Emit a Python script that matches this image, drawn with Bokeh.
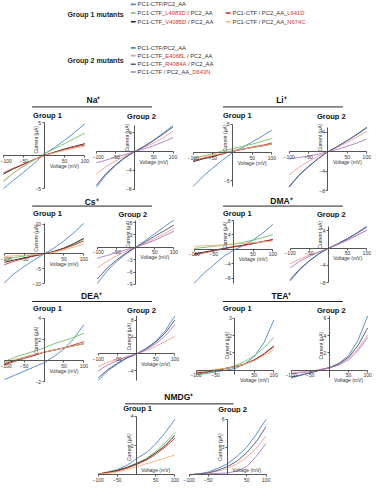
import math
from bokeh.plotting import figure
from bokeh.layouts import column, row
from bokeh.models import Range1d, FixedTicker, Spacer
from bokeh.core.properties import value
from bokeh.embed import file_html
from bokeh.resources import INLINE

FONT = "Liberation Sans"
VOLT = [-100, -75, -50, -25, 0, 25, 50, 75, 100]
X_TICKS = [-100, -50, 50, 100]

G1_COLORS = ["#4a86c8", "#6fbf62", "#222222", "#c8322b", "#f2b27a"]
G2_COLORS = ["#4a86c8", "#ee9e9a", "#4b5273", "#a77cc4"]
RED_TXT = "#d9302a"
TXT = "#333333"

# ---- Na+ ----
NA1_WT = [-5.0, -3.7, -2.5, -1.2, 0.2, 1.2, 2.3, 3.5, 4.8]
NA1_L4083D = [-3.8, -2.6, -1.6, -0.7, 0.3, 1.0, 1.8, 2.6, 3.4]
NA1_V4085D = [-2.8, -2.0, -1.3, -0.6, 0.0, 0.5, 1.0, 1.4, 1.8]
NA1_L641D = [-2.6, -1.9, -1.3, -0.6, 0.0, 0.5, 0.9, 1.3, 1.6]
NA1_N674C = [-4.0, -2.6, -1.5, -0.6, 0.0, 0.4, 0.8, 1.1, 1.4]
NA2_WT = [-7.6, -5.0, -3.0, -1.3, 0.0, 1.2, 2.5, 4.0, 5.6]
NA2_E4068L = [-4.8, -3.2, -2.0, -0.9, 0.0, 0.9, 1.9, 3.0, 4.4]
NA2_R4084A = [-7.2, -4.7, -2.8, -1.2, 0.0, 1.1, 2.4, 3.8, 5.3]
NA2_D643N = [-2.4, -1.8, -1.2, -0.6, 0.0, 0.6, 1.3, 2.1, 3.0]
# ---- Li+ ----
LI1_WT = [-6.0, -4.2, -2.7, -1.3, 0.0, 0.9, 1.9, 2.9, 4.0]
LI1_L4083D = [-1.0, -0.6, -0.2, 0.3, 0.7, 1.1, 1.5, 2.0, 2.5]
LI1_V4085D = [-1.6, -1.1, -0.7, -0.2, 0.3, 0.6, 0.9, 1.2, 1.5]
LI1_L641D = [-1.4, -1.0, -0.6, -0.2, 0.3, 0.6, 1.0, 1.3, 1.7]
LI1_N674C = [-1.0, -0.7, -0.4, -0.1, 0.3, 0.6, 0.9, 1.2, 1.5]
LI2_WT = [-7.1, -4.8, -3.0, -1.4, 0.0, 1.1, 2.3, 3.5, 4.9]
LI2_E4068L = [-4.8, -3.2, -2.0, -0.9, 0.0, 0.9, 1.9, 3.0, 4.2]
LI2_R4084A = [-7.3, -4.9, -3.1, -1.4, 0.0, 1.1, 2.3, 3.6, 5.0]
LI2_D643N = [-1.5, -1.2, -0.9, -0.5, 0.0, 0.5, 1.1, 1.8, 2.6]
# ---- Cs+ ----
CS1_WT = [-9.7, -6.6, -4.2, -2.0, 0.0, 2.0, 4.4, 7.2, 10.3]
CS1_L4083D = [-1.8, -1.2, -0.7, -0.3, 0.0, 0.8, 1.9, 3.3, 5.0]
CS1_V4085D = [-2.8, -2.0, -1.3, -0.6, 0.0, 0.9, 2.0, 3.5, 5.3]
CS1_L641D = [-3.6, -2.4, -1.5, -0.7, 0.0, 0.8, 1.8, 3.0, 4.4]
CS1_N674C = [-0.9, -0.6, -0.4, -0.2, 0.0, 0.6, 1.4, 2.3, 3.4]
CS2_WT = [-8.8, -5.8, -3.5, -1.6, 0.0, 1.6, 3.3, 5.0, 6.6]
CS2_E4068L = [-5.0, -3.4, -2.1, -1.0, 0.0, 1.0, 2.1, 3.3, 4.6]
CS2_R4084A = [-7.7, -5.1, -3.1, -1.4, 0.0, 1.3, 2.7, 4.0, 5.4]
CS2_D643N = [-2.7, -2.0, -1.3, -0.6, 0.0, 0.8, 1.7, 2.8, 3.9]
# ---- DMA+ ----
DMA1_WT = [-9.4, -6.6, -4.3, -2.0, -0.3, 1.0, 2.5, 4.5, 6.8]
DMA1_L4083D = [0.2, 0.5, 0.8, 1.1, 1.4, 1.9, 2.5, 3.2, 4.0]
DMA1_V4085D = [-1.3, -0.8, -0.3, 0.2, 0.7, 1.1, 1.6, 2.1, 2.6]
DMA1_L641D = [-1.6, -1.0, -0.5, 0.1, 0.6, 1.0, 1.5, 2.1, 2.7]
DMA1_N674C = [0.8, 0.9, 1.0, 1.2, 1.4, 1.6, 1.8, 2.0, 2.2]
DMA2_WT = [-7.6, -5.0, -3.0, -1.3, 0.0, 1.1, 2.3, 3.6, 5.1]
DMA2_E4068L = [-3.6, -2.5, -1.6, -0.8, 0.0, 0.9, 1.9, 3.0, 4.3]
DMA2_R4084A = [-7.3, -4.8, -2.9, -1.3, 0.0, 1.0, 2.2, 3.5, 4.9]
DMA2_D643N = [-4.6, -3.0, -1.9, -0.9, 0.0, 0.9, 1.9, 3.0, 4.2]
# ---- DEA+ ----
DEA1_WT = [-1.8, -1.4, -1.0, -0.6, -0.2, 0.4, 1.1, 2.1, 3.4]
DEA1_L4083D = [-0.1, 0.3, 0.6, 0.9, 1.2, 1.6, 1.9, 2.2, 2.6]
DEA1_V4085D = [-0.3, 0.0, 0.3, 0.5, 0.8, 1.0, 1.2, 1.4, 1.6]
DEA1_L641D = [-0.4, -0.1, 0.2, 0.5, 0.8, 1.0, 1.2, 1.5, 1.8]
DEA1_N674C = [-0.2, 0.1, 0.3, 0.6, 0.8, 1.0, 1.2, 1.4, 1.6]
DEA2_WT = [-6.3, -4.0, -2.4, -1.0, 0.0, 1.3, 3.0, 5.5, 9.0]
DEA2_E4068L = [-3.0, -2.0, -1.3, -0.6, 0.0, 0.8, 1.8, 2.9, 4.2]
DEA2_R4084A = [-5.7, -3.7, -2.2, -0.9, 0.0, 1.2, 2.8, 5.0, 8.0]
DEA2_D643N = [-4.0, -2.6, -1.6, -0.7, 0.0, 1.0, 2.4, 4.3, 7.0]
# ---- TEA+ ----
TEA1_WT = [-0.25, -0.2, -0.1, 0.0, 0.1, 0.35, 0.8, 1.6, 2.9]
TEA1_L4083D = [-0.25, -0.15, -0.05, 0.1, 0.25, 0.5, 0.85, 1.3, 1.9]
TEA1_V4085D = [-0.15, -0.1, 0.0, 0.1, 0.2, 0.35, 0.6, 0.95, 1.4]
TEA1_L641D = [-0.15, -0.1, 0.0, 0.1, 0.2, 0.35, 0.6, 0.95, 1.35]
TEA1_N674C = [-0.1, -0.05, 0.05, 0.1, 0.2, 0.35, 0.55, 0.85, 1.2]
TEA2_WT = [-0.9, -0.6, -0.3, 0.0, 0.3, 0.8, 1.7, 3.5, 6.3]
TEA2_E4068L = [-0.3, -0.2, -0.1, 0.1, 0.3, 0.7, 1.4, 2.5, 4.1]
TEA2_R4084A = [-0.8, -0.55, -0.3, 0.0, 0.3, 0.75, 1.5, 2.9, 4.9]
TEA2_D643N = [-0.4, -0.3, -0.15, 0.05, 0.25, 0.6, 1.2, 2.3, 3.8]
# ---- NMDG+ ----
NMDG1_WT = [0.05, 0.2, 0.35, 0.65, 1.1, 1.5, 2.1, 2.9, 3.8]
NMDG1_L4083D = [0.05, 0.15, 0.3, 0.5, 0.8, 1.1, 1.6, 2.2, 2.9]
NMDG1_V4085D = [0.05, 0.15, 0.3, 0.5, 0.75, 1.05, 1.5, 2.0, 2.7]
NMDG1_L641D = [0.05, 0.15, 0.25, 0.45, 0.7, 1.0, 1.4, 1.9, 2.5]
NMDG1_N674C = [0.05, 0.1, 0.2, 0.35, 0.55, 0.75, 0.95, 1.15, 1.35]
NMDG2_WT = [0.0, 0.1, 0.3, 0.7, 1.2, 2.0, 3.0, 4.4, 6.0]
NMDG2_E4068L = [0.0, 0.1, 0.2, 0.4, 0.7, 1.2, 1.9, 2.9, 4.2]
NMDG2_R4084A = [0.0, 0.1, 0.2, 0.5, 0.9, 1.5, 2.4, 3.6, 5.2]
NMDG2_D643N = [0.0, 0.05, 0.1, 0.15, 0.2, 0.4, 0.9, 2.0, 3.4]

# y tick labels per panel
NA1_YT, NA2_YT = [5, -5], [4, -4, -8]
LI1_YT, LI2_YT = [5, -5], [4, -4, -8]
CS1_YT, CS2_YT = [10, -5, -10], [6, 3, -3, -6, -9]
DMA1_YT, DMA2_YT = [8, 4, -4, -8], [4, -4, -8]
DEA1_YT, DEA2_YT = [4, 2, -2], [8, 4, -4]
TEA1_YT, TEA2_YT = [3, 2, 1], [6, 4, 2]
NMDG1_YT, NMDG2_YT = [4, 2], [6, 3]

LEG_G1 = [
    [("PC1-CTF/PC2_AA", TXT)],
    [("PC1-CTF_", TXT), ("L4083D", RED_TXT), (" / PC2_AA", TXT)],
    [("PC1-CTF_", TXT), ("V4085D", RED_TXT), (" / PC2_AA", TXT)],
    [("PC1-CTF / PC2_AA_", TXT), ("L641D", RED_TXT)],
    [("PC1-CTF / PC2_AA_", TXT), ("N674C", RED_TXT)],
]
LEG_G2 = [
    [("PC1-CTF/PC2_AA", TXT)],
    [("PC1-CTF_", TXT), ("E4068L", RED_TXT), (" / PC2_AA", TXT)],
    [("PC1-CTF_", TXT), ("R4084A", RED_TXT), (" / PC2_AA", TXT)],
    [("PC1-CTF / PC2_AA_", TXT), ("D643N", RED_TXT)],
]

# ---------------- layout helpers ----------------
SX = 373 / 389.0
SY = 484 / 500.0
CW = {' ': 278, '/': 278, '-': 333, '_': 556, 'A': 667, 'C': 722, 'D': 722, 'E': 667,
      'F': 611, 'L': 556, 'N': 722, 'P': 667, 'R': 722, 'T': 611, 'V': 667}
LW = 0.9


def twidth(s, fs):
    return sum(CW.get(c, 556) for c in s) * fs / 1000.0


def px_w(a, b):
    return round(b * SX) - round(a * SX)


def px_h(a, b):
    return round(b * SY) - round(a * SY)


def canvas(by):
    p = figure(width=373, height=px_h(*by), x_range=Range1d(0, 389),
               y_range=Range1d(by[1], by[0]), output_backend="svg",
               toolbar_location=None, min_border=0, x_axis_type=None, y_axis_type=None)
    p.outline_line_color = None
    return p


def make_legend():
    by = (0, 90)
    p = canvas(by)
    fs = 5.8
    p.text(x=[70, 70], y=[14, 62], text=["Group 1 mutants", "Group 2 mutants"],
           text_font=value(FONT), text_font_size=value("7px"), text_font_style="bold",
           text_color="#222222", text_align="left", text_baseline="middle")

    def entry(x, y, parts, color):
        p.segment(x0=[x - 7], x1=[x - 2], y0=[y], y1=[y], line_color=color, line_width=1.6)
        cx = x
        for txt, col in parts:
            lead = len(txt) - len(txt.lstrip(" "))
            xd = cx + twidth(" " * lead, fs) / SX
            p.text(x=[xd], y=[y], text=[txt.strip()], text_color=col, text_font=value(FONT),
                   text_font_size=value("%spx" % fs), text_align="left", text_baseline="middle")
            cx += twidth(txt, fs) / SX

    pos1 = [(143, 4), (143, 13), (143, 22), (242, 13), (242, 22)]
    for (x, y), parts, c in zip(pos1, LEG_G1, G1_COLORS):
        entry(x, y, parts, c)
    pos2 = [(143, 49), (143, 57), (143, 66), (143, 74)]
    for (x, y), parts, c in zip(pos2, LEG_G2, G2_COLORS):
        entry(x, y, parts, c)
    return p


def make_header(by, titles, lines, groups):
    p = canvas(by)
    p.text(x=[t[1] for t in titles], y=[t[2] for t in titles], text=[t[0] for t in titles],
           text_font=value(FONT), text_font_size=value("8.5px"), text_font_style="bold",
           text_color="#111111", text_align="center", text_baseline="middle")
    p.segment(x0=[l[0] for l in lines], x1=[l[1] for l in lines], y0=[l[2] for l in lines],
              y1=[l[2] for l in lines], line_color="#222222", line_width=1)
    p.text(x=[g[1] for g in groups], y=[g[2] for g in groups], text=[g[0] for g in groups],
           text_font=value(FONT), text_font_size=value("7.5px"), text_font_style="bold",
           text_color="#111111", text_align="left", text_baseline="middle")
    return p


def make_panel(bx, by, xm, xp, py0, upp, yticks, series, colors, vlab_above=False):
    k = 200.0 / (xp - xm)
    xr = Range1d(-100 - (xm - bx[0]) * k, 100 + (bx[1] - xp) * k)
    yr = Range1d(-(by[1] - py0) / upp, (py0 - by[0]) / upp)
    p = figure(width=px_w(*bx), height=px_h(*by), x_range=xr, y_range=yr,
               output_backend="svg", toolbar_location=None, min_border=0)
    p.grid.visible = False
    p.outline_line_color = None
    for ys, c in zip(series, colors):
        p.line(VOLT, ys, line_color=c, line_width=LW)
    p.xaxis.fixed_location = 0
    p.yaxis.fixed_location = 0
    p.xaxis.ticker = FixedTicker(ticks=X_TICKS)
    p.yaxis.ticker = FixedTicker(ticks=yticks)
    p.xaxis.bounds = (-100, 100)
    lo = min(min(min(s) for s in series), min(yticks), 0)
    hi = max(max(max(s) for s in series), max(yticks), 0)
    p.yaxis.bounds = (lo, hi)
    p.axis.axis_line_color = "#555555"
    p.axis.axis_line_width = 1
    p.axis.major_tick_line_color = "#555555"
    p.axis.major_tick_in = 0
    p.axis.major_tick_out = 2
    p.axis.minor_tick_line_color = None
    p.axis.major_label_text_font_size = "5px"
    p.axis.major_label_text_font = FONT
    p.axis.major_label_text_color = "#333333"
    p.axis.major_label_standoff = 1
    p.text(x=[50], y=[0], text=["Voltage (mV)"], y_offset=(-2 if vlab_above else 7),
           text_baseline=("bottom" if vlab_above else "top"), text_align="center",
           text_font=value(FONT), text_font_size=value("5px"), text_color="#333333")
    ylab = (py0 - by[0]) * 0.45 / upp
    p.text(x=[0], y=[ylab], text=["Current (µA)"], angle=math.pi / 2, x_offset=-5,
           text_align="center", text_baseline="bottom", text_font=value(FONT),
           text_font_size=value("5px"), text_color="#333333")
    return p


def rowp(figs):
    return row(*figs, spacing=0)


# ---------------- build ----------------
legend = make_legend()

# Row 1: Na+, Li+
H1 = (90, 124)
P1 = (124, 202)
h1 = make_header(H1, [("Na⁺", 97, 103), ("Li⁺", 293, 103)],
                 [(33, 158, 110), (232, 357, 110)],
                 [("Group 1", 34, 119), ("Group 2", 132, 120), ("Group 1", 232, 119), ("Group 2", 330, 120)])
r1 = rowp([
    make_panel((0, 96), P1, 3, 88, 160, 6.8, NA1_YT,
               [NA1_WT, NA1_L4083D, NA1_V4085D, NA1_L641D, NA1_N674C], G1_COLORS),
    make_panel((96, 192), P1, 100, 180, 156, 4.8, NA2_YT,
               [NA2_WT, NA2_E4068L, NA2_R4084A, NA2_D643N], G2_COLORS),
    make_panel((192, 292), P1, 201, 283, 157, 5.8, LI1_YT,
               [LI1_WT, LI1_L4083D, LI1_V4085D, LI1_L641D, LI1_N674C], G1_COLORS),
    make_panel((292, 389), P1, 301, 382, 156, 5.0, LI2_YT,
               [LI2_WT, LI2_E4068L, LI2_R4084A, LI2_D643N], G2_COLORS),
])

# Row 2: Cs+, DMA+
H2 = (202, 225)
P2 = (225, 298)
h2 = make_header(H2, [("Cs⁺", 95, 208), ("DMA⁺", 293, 207)],
                 [(33, 158, 212), (232, 357, 212)],
                 [("Group 1", 34, 220), ("Group 2", 123, 221), ("Group 1", 232, 220), ("Group 2", 330, 221)])
r2 = rowp([
    make_panel((0, 96), P2, 4, 87, 262, 3.1, CS1_YT,
               [CS1_WT, CS1_L4083D, CS1_V4085D, CS1_L641D, CS1_N674C], G1_COLORS),
    make_panel((96, 192), P2, 101, 181, 255, 4.3, CS2_YT,
               [CS2_WT, CS2_E4068L, CS2_R4084A, CS2_D643N], G2_COLORS),
    make_panel((192, 292), P2, 202, 284, 257, 3.8, DMA1_YT,
               [DMA1_WT, DMA1_L4083D, DMA1_V4085D, DMA1_L641D, DMA1_N674C], G1_COLORS),
    make_panel((292, 389), P2, 302, 382, 256, 4.5, DMA2_YT,
               [DMA2_WT, DMA2_E4068L, DMA2_R4084A, DMA2_D643N], G2_COLORS),
])

# Row 3: DEA+, TEA+
H3 = (298, 325)
P3 = (325, 400)
h3 = make_header(H3, [("DEA⁺", 95, 305), ("TEA⁺", 293, 305)],
                 [(33, 158, 311), (232, 357, 311)],
                 [("Group 1", 34, 318), ("Group 2", 132, 320), ("Group 1", 232, 318), ("Group 2", 330, 320)])
r3 = rowp([
    make_panel((0, 96), P3, 4, 87, 372, 11, DEA1_YT,
               [DEA1_WT, DEA1_L4083D, DEA1_V4085D, DEA1_L641D, DEA1_N674C], G1_COLORS),
    make_panel((96, 192), P3, 102, 182, 365, 4.4, DEA2_YT,
               [DEA2_WT, DEA2_E4068L, DEA2_R4084A, DEA2_D643N], G2_COLORS),
    make_panel((192, 292), P3, 204, 285, 382, 18, TEA1_YT,
               [TEA1_WT, TEA1_L4083D, TEA1_V4085D, TEA1_L641D, TEA1_N674C], G1_COLORS),
    make_panel((292, 389), P3, 303, 383, 382, 9, TEA2_YT,
               [TEA2_WT, TEA2_E4068L, TEA2_R4084A, TEA2_D643N], G2_COLORS),
])

# Row 4: NMDG+
H4 = (400, 427)
P4 = (427, 500)
h4 = make_header(H4, [("NMDG⁺", 186, 410)], [(130, 243, 417)],
                 [("Group 1", 128, 422), ("Group 2", 227, 423)])
r4 = rowp([
    Spacer(width=px_w(0, 95), height=px_h(*P4)),
    make_panel((95, 190), P4, 102, 182, 490, 15, NMDG1_YT,
               [NMDG1_WT, NMDG1_L4083D, NMDG1_V4085D, NMDG1_L641D, NMDG1_N674C], G1_COLORS,
               vlab_above=True),
    make_panel((190, 290), P4, 197, 277, 490, 9.5, NMDG2_YT,
               [NMDG2_WT, NMDG2_E4068L, NMDG2_R4084A, NMDG2_D643N], G2_COLORS,
               vlab_above=True),
    Spacer(width=px_w(290, 389), height=px_h(*P4)),
])

layout = column(legend, h1, r1, h2, r2, h3, r3, h4, r4, spacing=0)

open("out.html", "w").write(file_html(layout, INLINE))
